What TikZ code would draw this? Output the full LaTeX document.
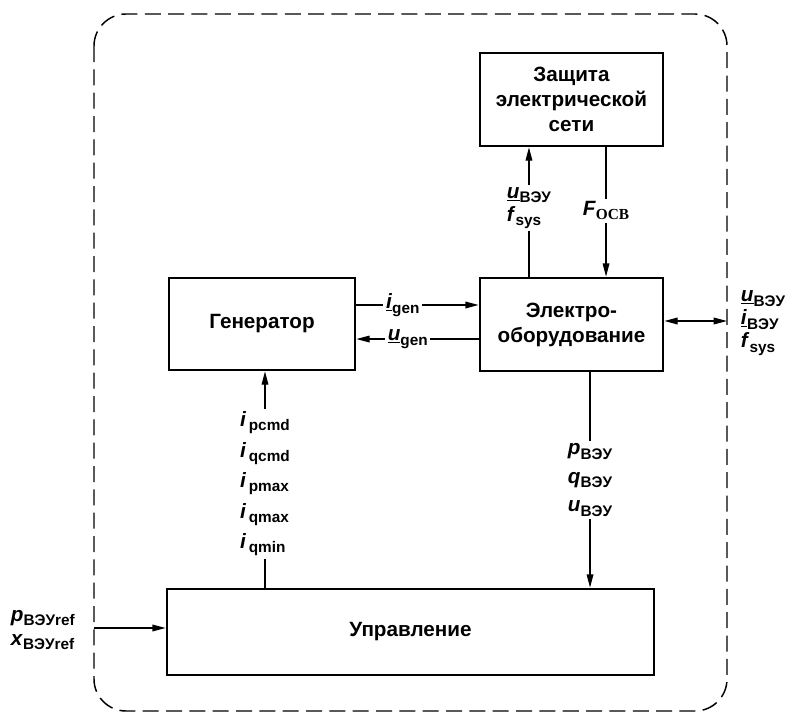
\documentclass[tikz,border=0pt]{standalone}
\usepackage{fontspec}
\setmainfont{Liberation Sans}
\newfontfamily\ocbfont{Liberation Serif}
\usetikzlibrary{arrows.meta}
\newcommand{\subtx}[1]{\raisebox{-0.4ex}{\fontsize{11.5}{12}\selectfont #1}}
\newcommand{\sig}[2]{\textit{#1}\subtx{#2}}
\newcommand{\usig}[2]{\underline{\textit{#1}}\subtx{#2}}

\begin{document}
\begin{tikzpicture}[x=0.75pt,y=-0.75pt,>={Triangle[length=10pt,width=5pt]}]
\tikzstyle{block}=[draw,line width=2pt,align=center,font=\fontsize{15.5}{18.75}\selectfont\bfseries]
\tikzstyle{lbl}=[fill=white,inner sep=2pt,align=left,font=\fontsize{15.5}{16.5}\selectfont\bfseries]
\tikzstyle{conn}=[line width=1pt]

  \useasboundingbox (0,0) rectangle (794,714);

  %--- border ---
  \draw[line width=1.1pt,dash pattern=on 12pt off 5.5pt,rounded corners=24pt]
    (94,14) rectangle (727,711);
  \coordinate (bndL) at (94,628);
  \coordinate (bndR) at (727,321);

  %--- blocks ---
  \node[block,minimum width=137.25pt,minimum height=69.75pt] (prot) at (571.5,99.5)
    {Защита\\электрической\\сети};
  \node[block,minimum width=137.25pt,minimum height=69.75pt] (equip) at (571.5,324.5)
    {Электро-\\оборудование};
  \node[block,minimum width=139.5pt,minimum height=69pt] (gen) at (262,324) {Генератор};
  \node[block,minimum width=365.25pt,minimum height=64.5pt] (ctrl) at (410.5,632) {Управление};

  %--- outer signals ---
  \node[lbl,anchor=west] (outR) at (738,323)
    {\usig{u}{ВЭУ}\\[0.75pt]\usig{i}{ВЭУ}\\[0.75pt]\sig{f}{sys}};
  \node[lbl,anchor=west] (refL) at (8,630)
    {\sig{p}{ВЭУref}\\[1.5pt]\sig{x}{ВЭУref}};

  %--- connections ---
  \draw[conn,->] ([yshift=14.25pt]gen.east) --
    node[lbl,pos=0.38] {\usig{i}{gen}} ([yshift=14.25pt]gen.east -| equip.west);
  \draw[conn,->] ([yshift=-10.9pt]equip.west) --
    node[lbl,pos=0.58] {\usig{u}{gen}} ([yshift=-10.9pt]equip.west -| gen.east);

  \draw[conn,->] ([xshift=-31.9pt]equip.north) --
    node[lbl,pos=0.53] {\usig{u}{ВЭУ}\\[0.5pt]\sig{f}{sys}} ([xshift=-31.9pt]equip.north |- prot.south);
  \draw[conn,->] ([xshift=25.9pt]prot.south) --
    node[lbl,pos=0.49] {\textit{F}\subtx{\ocbfont OCB}} ([xshift=25.9pt]prot.south |- equip.north);

  \draw[conn,->] ([xshift=13.9pt]equip.south) --
    node[lbl,pos=0.5] {\sig{p}{ВЭУ}\\[5pt]\sig{q}{ВЭУ}\\[5pt]\sig{u}{ВЭУ}}
    ([xshift=13.9pt]equip.south |- ctrl.north);
  \draw[conn,->] ([xshift=2.25pt]gen.south |- ctrl.north) --
    node[lbl,pos=0.48] {\sig{i}{\,pcmd}\\[5pt]\sig{i}{\,qcmd}\\[5pt]\sig{i}{\,pmax}\\[5pt]\sig{i}{\,qmax}\\[5pt]\sig{i}{\,qmin}}
    ([xshift=2.25pt]gen.south);

  \draw[conn,<->] (equip.east |- bndR) -- (bndR);
  \draw[conn,->] (bndL) -- (bndL -| ctrl.west);
\end{tikzpicture}
\end{document}
